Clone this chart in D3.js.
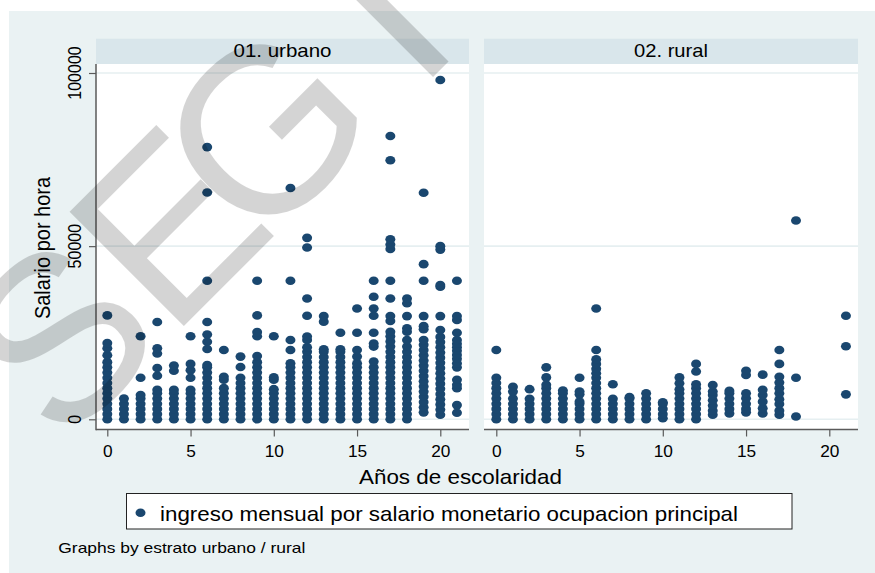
<!DOCTYPE html>
<html><head><meta charset="utf-8">
<script src="https://cdn.jsdelivr.net/npm/d3@7"></script>
<style>
body{margin:0;background:#fff}
svg{display:block}
text{font-family:"Liberation Sans",Arial,Helvetica,sans-serif;fill:#000}
</style>
</head><body>
<svg id="chart" width="875" height="573"></svg>
<script>
// ---------------- data ----------------
const panelLabels = ["01. urbano", "02. rural"];
const years = [0,1,2,3,4,5,6,7,8,9,10,11,12,13,14,15,16,17,18,19,20,21];
const xTicks = [0,5,10,15,20];
const yTicks = [0,50000,100000];
const xTitle = "Años de escolaridad";
const yTitle = "Salario por hora";
const legendLabel = "ingreso mensual por salario monetario ocupacion principal";
const noteText = "Graphs by estrato urbano / rural";

// salary values per year of schooling (index = years)
const urbanValues = [
  [0,1500,3000,4500,6000,7500,9000,10500,12000,13500,15000,16500,18500,20500,22000,30000],
  [0,1500,3000,4500,6000],
  [0,1500,3000,4500,6000,7000,12000,24000],
  [0,1500,3000,4500,6000,7500,8500,12600,14800,19000,20500,28100],
  [0,1500,3000,4500,6000,7500,8500,14000,15500],
  [0,1500,3000,4500,6000,7500,8500,12000,14200,16000,24000],
  [0,1500,3000,4500,6000,7500,9000,10500,12000,13500,15000,15700,20300,22400,24500,28100,40000,65500,78600],
  [0,1500,3000,4500,6000,7500,9000,11400,12300,20000],
  [0,1500,3000,4500,6000,7500,9000,10500,12000,15100,18100],
  [0,1500,3000,4500,6000,7500,9000,10500,12000,13500,15000,16500,18300,24000,25200,30000,40000],
  [0,1500,3000,4500,6000,7500,8700,11400,12100,24000],
  [0,1500,3000,4500,6000,7500,9000,10500,12000,13500,15000,16200,20000,22900,40000,66800],
  [0,1500,3000,4500,6000,7500,9000,10500,12000,13500,15000,16500,18000,19500,20800,22900,23900,29900,34900,49600,52400],
  [0,1500,3000,4500,6000,7500,9000,10500,12000,13500,15000,16500,18000,19500,20200,28200,29800],
  [0,1500,3000,4500,6000,7500,9000,10500,12000,13500,15000,16500,18000,19500,20200,25000],
  [0,1500,3000,4500,6000,7500,9000,10500,12000,13500,15000,16200,18100,20000,25000,32000],
  [0,1500,3000,4500,6000,7500,9000,10500,12000,13500,15000,16700,21000,21900,25000,29900,32000,35400,40000],
  [0,1500,3000,4500,6000,7500,9000,10500,12000,13500,15000,16500,18000,19500,21000,22500,24000,25300,28400,29800,34900,40000,49200,50500,52000,74800,81800],
  [0,1500,3000,4500,6000,7500,9000,10500,12000,13500,15000,16500,18000,19500,21000,22900,25300,26300,29800,33500,34900],
  [2000,3500,5000,6500,8000,9500,11000,12500,14000,15500,17000,18500,20000,21500,22900,26000,26900,29800,40000,44800,65400],
  [1300,2800,4300,5800,7300,8800,10300,11800,13300,14800,16300,17800,19300,20800,22300,23800,25800,29800,38300,38800,49000,50000,98000],
  [1900,4100,9000,10000,11400,15000,16200,17500,18600,19800,20800,21800,22900,25000,28700,29800,40000]
];
const ruralValues = [
  [0,1500,3000,4500,6000,7500,9000,10500,12000,20000],
  [0,1500,3000,4500,6000,8000,9400],
  [0,1500,3000,4500,5900,8700],
  [0,1500,3000,4500,6000,7500,9000,10000,12100,15000],
  [0,1500,3000,4500,6000,7500,8300],
  [0,1500,3000,4500,5100,7200,8000,12000],
  [0,1500,3000,4500,6000,7500,9000,10500,12000,13300,14600,16000,17300,20000,32000],
  [0,1500,3000,4500,5900,10100],
  [0,1500,3000,4500,6000,6400],
  [0,1500,3000,4500,6000,7500],
  [300,1500,3000,4500,4900],
  [0,1500,3000,4500,6000,7500,8700,10400,12100],
  [0,1500,3000,4500,6000,7500,9000,10100,13800,16000],
  [1300,2500,4000,5500,7000,8000,9900],
  [1700,3000,4500,6000,7500,8200],
  [2000,3000,4500,6100,7500,12800,14000],
  [1700,3200,5100,7000,8500,12900],
  [1300,2500,4400,5800,7500,9000,10600,12300,16000,20000],
  [800,12000,57400],
  [],
  [],
  [7200,21100,29900]
];
const watermarkLetters = ["S","E","G","I"];

// ---------------- layout ----------------
const C = {
  bg:"#EAF2F3", strip:"#D9E6EB", grid:"#E6EFF1", dot:"#1A476F", axis:"#5a5a5a"
};
const svg = d3.select("#chart");
const plotTop = 64, plotBottom = 429.5, stripTop = 38.7;
const panels = [
  {label:panelLabels[0], x0:96, x1:469, zero:107.3, twenty:440.3, values:urbanValues},
  {label:panelLabels[1], x0:484, x1:858, zero:496.3, twenty:829.3, values:ruralValues}
];
const y = d3.scaleLinear().domain([0,100000]).range([419.3,73]);

svg.append("rect").attr("x",0).attr("y",0).attr("width",875).attr("height",573).attr("fill","#fff");
svg.append("rect").attr("x",9).attr("y",11).attr("width",866).attr("height",562).attr("fill",C.bg);

panels.forEach(p=>{
  const x = d3.scaleLinear().domain([xTicks[0], xTicks[xTicks.length-1]]).range([p.zero,p.twenty]);
  const g = svg.append("g");
  // strip
  g.append("rect").attr("x",p.x0).attr("y",stripTop).attr("width",p.x1-p.x0).attr("height",plotTop-stripTop).attr("fill",C.strip);
  const cx = (p.x0+p.x1)/2;
  const tl = p === panels[0] ? 98 : 74;
  g.append("text").attr("x",cx-tl/2).attr("y",56.7).attr("font-size",18.5)
    .attr("textLength",tl).attr("lengthAdjust","spacingAndGlyphs").text(p.label);
  // plot region
  g.append("rect").attr("x",p.x0).attr("y",plotTop).attr("width",p.x1-p.x0).attr("height",plotBottom-plotTop).attr("fill","#fff");
  // grid
  g.selectAll("line.grid").data(yTicks).join("line").attr("class","grid")
    .attr("x1",p.x0).attr("x2",p.x1).attr("y1",d=>y(d)).attr("y2",d=>y(d))
    .attr("stroke",C.grid).attr("stroke-width",1.6);
  // points
  const pts = [];
  p.values.forEach((arr,i)=>arr.forEach(v=>pts.push({year:years[i], value:v})));
  g.selectAll("ellipse.pt").data(pts).join("ellipse").attr("class","pt")
    .attr("cx",d=>x(d.year)).attr("cy",d=>y(d.value)).attr("rx",5).attr("ry",4.3)
    .attr("fill",C.dot);
  // x axis
  const ax = g.append("g").attr("transform",`translate(0,${plotBottom})`)
    .call(d3.axisBottom(x).tickValues(xTicks).tickSize(7).tickSizeOuter(0).tickFormat(d3.format("d")));
  ax.select(".domain").remove();
  ax.selectAll(".tick line").attr("stroke",C.axis).attr("stroke-width",1.2);
  ax.selectAll(".tick text").attr("y",0).attr("dy",null)
    .attr("transform","translate(0,27) scale(1.08,1)")
    .attr("font-size",16).attr("fill","#000").attr("font-family","Liberation Sans, Arial, sans-serif");
  g.append("line").attr("x1",p.x0).attr("x2",p.x1).attr("y1",plotBottom).attr("y2",plotBottom)
    .attr("stroke",C.axis).attr("stroke-width",1.5);
});

// y axis (left panel only)
const yAxisG = svg.append("g").attr("transform","translate(96,0)")
  .call(d3.axisLeft(y).tickValues(yTicks).tickSize(7).tickSizeOuter(0).tickFormat(d3.format("d")));
yAxisG.select(".domain").remove();
yAxisG.selectAll(".tick line").attr("stroke",C.axis).attr("stroke-width",1.2);
yAxisG.selectAll(".tick text").remove();
svg.append("line").attr("x1",96).attr("x2",96).attr("y1",plotTop).attr("y2",plotBottom+0.75)
  .attr("stroke",C.axis).attr("stroke-width",1.5);
svg.selectAll("text.ytick").data(yTicks).join("text").attr("class","ytick")
  .attr("transform",d=>`translate(81,${y(d)}) scale(1.15,1) rotate(-90)`)
  .attr("text-anchor","middle").attr("font-size",16).text(d=>d3.format("d")(d));

// axis titles
svg.append("text").attr("transform","translate(50,248) scale(1.12,1) rotate(-90)")
  .attr("text-anchor","middle").attr("font-size",20).text(yTitle);
svg.append("text").attr("x",359).attr("y",484).attr("font-size",21)
  .attr("textLength",203).attr("lengthAdjust","spacingAndGlyphs").text(xTitle);

// legend
svg.append("rect").attr("x",126.5).attr("y",493.5).attr("width",665.5).attr("height",35.5)
  .attr("fill","#fff").attr("stroke","#222").attr("stroke-width",1);
svg.append("ellipse").attr("cx",140.5).attr("cy",512.7).attr("rx",5).attr("ry",4.3).attr("fill",C.dot);
svg.append("text").attr("x",160).attr("y",520.5).attr("font-size",21)
  .attr("textLength",578).attr("lengthAdjust","spacingAndGlyphs").text(legendLabel);

// note
svg.append("text").attr("x",58.3).attr("y",552.7).attr("font-size",14.5)
  .attr("textLength",247).attr("lengthAdjust","spacingAndGlyphs").text(noteText);

// watermark overlay
const wmPos = [-275,-120,4,230];
const wm = svg.append("g").attr("transform","translate(255,255) rotate(-45)").attr("opacity",0.165);
wm.selectAll("text").data(watermarkLetters).join("text")
  .attr("x",(d,i)=>wmPos[i]).attr("y",0).attr("font-size",235).attr("fill","#000").text(d=>d);
</script>
</body></html>
